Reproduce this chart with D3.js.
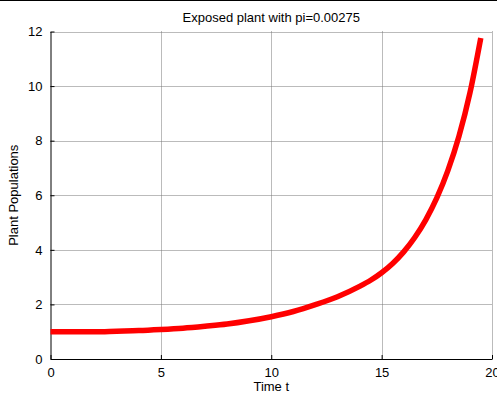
<!DOCTYPE html>
<html><head><meta charset="utf-8">
<script src="https://cdn.jsdelivr.net/npm/d3@7"></script>
<style>body{margin:0;background:#fff}svg{display:block}text{font-family:"Liberation Sans",Arial,sans-serif}</style>
</head><body>
<script>
const times = [0,1,2,3,4,5,6,7,8,9,10,11,12,13,14,14.5,15,15.5,16,16.5,17,17.5,18,18.5,19,19.49];
const population = [1.0,1.0,1.0,1.02,1.04,1.08,1.13,1.2,1.28,1.4,1.55,1.74,1.99,2.28,2.66,2.885,3.16,3.5,3.925,4.45,5.1,5.9,6.9,8.15,9.75,11.76];
const xTicks = [0,5,10,15,20];
const yTicks = [0,2,4,6,8,10,12];
const title = "Exposed plant with pi=0.00275";
const xLabel = "Time t";
const yLabel = "Plant Populations";

const W=497,H=396;
const m={l:50.5,r:492,t:31.5,b:359};
const svg=d3.select("body").append("svg").attr("width",W).attr("height",H);
const x=d3.scaleLinear().domain([0,20]).range([m.l,m.r]);
const y=d3.scaleLinear().domain([0,12]).range([m.b,m.t]);

svg.append("line").attr("x1",0).attr("x2",W).attr("y1",0.5).attr("y2",0.5).attr("stroke","#000").attr("stroke-width",1);

// grid
const g=svg.append("g");
g.selectAll(".gx").data(xTicks.slice(1)).join("line")
 .attr("x1",d=>Math.round(x(d))+0.5).attr("x2",d=>Math.round(x(d))+0.5)
 .attr("y1",m.t).attr("y2",m.b).attr("stroke","#777").attr("stroke-dasharray","1,1");
g.selectAll(".gy").data(yTicks.slice(1)).join("line")
 .attr("y1",d=>Math.round(y(d))+0.5).attr("y2",d=>Math.round(y(d))+0.5)
 .attr("x1",m.l).attr("x2",m.r).attr("stroke","#777").attr("stroke-dasharray","1,1");

// axes
const xa=svg.append("g").attr("transform",`translate(0,${m.b})`)
 .call(d3.axisBottom(x).tickValues(xTicks).tickSizeInner(-4).tickSizeOuter(0).tickPadding(9));
const ya=svg.append("g").attr("transform",`translate(${m.l},0)`)
 .call(d3.axisLeft(y).tickValues(yTicks).tickSizeInner(-4).tickSizeOuter(0).tickPadding(8));
[xa,ya].forEach(a=>{a.selectAll("text").attr("font-size",13).attr("fill","#000").style("font-family","'Liberation Sans',Arial,sans-serif");
 a.select(".domain").attr("stroke","#000");a.selectAll(".tick line").attr("stroke","#000");});

// line
svg.append("path").datum(times.map((t,i)=>[t,population[i]]))
 .attr("fill","none").attr("stroke","#ff0000").attr("stroke-width",5.5)
 .attr("d",d3.line().curve(d3.curveMonotoneX).x(d=>x(d[0])).y(d=>y(d[1])));

svg.append("text").attr("x",(m.l+m.r)/2).attr("y",22).attr("text-anchor","middle").attr("font-size",13).text(title);
svg.append("text").attr("x",(m.l+m.r)/2).attr("y",391).attr("text-anchor","middle").attr("font-size",13).text(xLabel);
svg.append("text").attr("transform",`translate(18,${(m.t+m.b)/2}) rotate(-90)`).attr("text-anchor","middle").attr("font-size",13).text(yLabel);
</script>
</body></html>
